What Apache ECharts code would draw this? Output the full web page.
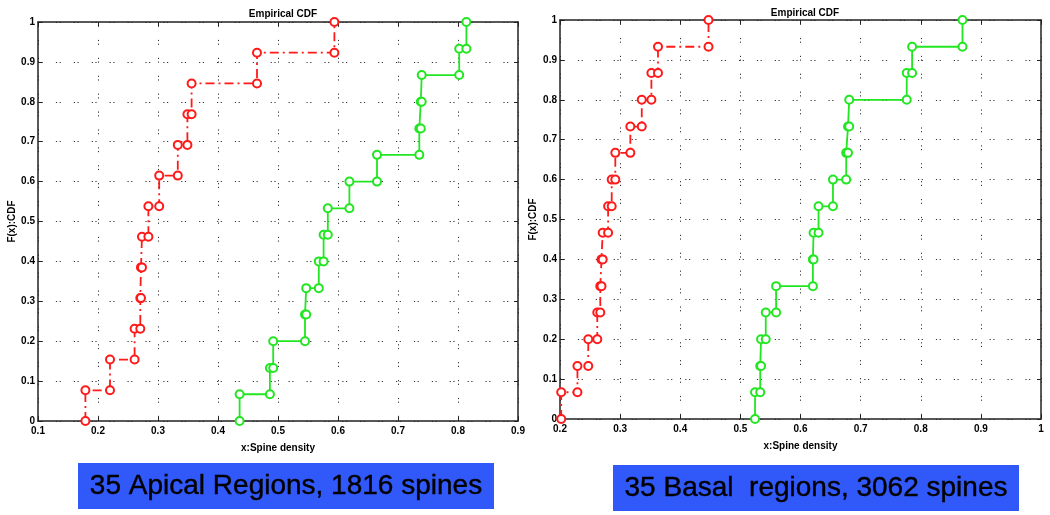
<!DOCTYPE html>
<html><head><meta charset="utf-8">
<script src="https://cdn.jsdelivr.net/npm/echarts@6/dist/echarts.min.js"></script>
<style>html,body{margin:0;padding:0;background:#fff}#c{width:1050px;height:515px}</style>
</head><body><div id="c"></div>
<script>
// Apical (left panel)
const apicalRedX   = [0.179, 0.220, 0.261, 0.2705, 0.2716, 0.2733, 0.284, 0.302, 0.333, 0.349, 0.356, 0.465, 0.594];
const apicalRedF   = [0.077, 0.154, 0.231, 0.308, 0.385, 0.462, 0.538, 0.615, 0.692, 0.769, 0.846, 0.923, 1];
const apicalGreenX = [0.436, 0.4865, 0.492, 0.545, 0.547, 0.568, 0.576, 0.583, 0.619, 0.665, 0.7355, 0.738, 0.7395, 0.802, 0.814];
const apicalGreenF = [0.067, 0.133, 0.2, 0.267, 0.333, 0.4, 0.467, 0.533, 0.6, 0.667, 0.733, 0.8, 0.867, 0.933, 1];
// Basal (right panel)
const basalRedX    = [0.202, 0.229, 0.247, 0.262, 0.267, 0.269, 0.271, 0.280, 0.286, 0.292, 0.317, 0.336, 0.352, 0.363, 0.447];
const basalRedF    = [0.067, 0.133, 0.2, 0.267, 0.333, 0.4, 0.467, 0.533, 0.6, 0.667, 0.733, 0.8, 0.867, 0.933, 1];
const basalGreenX  = [0.5244, 0.533, 0.5344, 0.5422, 0.5594, 0.6206, 0.6217, 0.630, 0.654, 0.676, 0.679, 0.681, 0.7767, 0.7856, 0.8694];
const basalGreenF  = [0.067, 0.133, 0.2, 0.267, 0.333, 0.4, 0.467, 0.533, 0.6, 0.667, 0.733, 0.8, 0.867, 0.933, 1];

const titleText = 'Empirical CDF';
const xName = 'x:Spine density';
const yName = 'F(x):CDF';
const leftCaption = '35 Apical Regions, 1816 spines';
const rightCaption = '35 Basal  regions, 3062 spines';

function stairs(xs, fs) {
  const pts = [[xs[0], 0]];
  for (let i = 0; i < xs.length; i++) {
    pts.push([xs[i], fs[i]]);
    if (i + 1 < xs.length) pts.push([xs[i + 1], fs[i]]);
  }
  return pts;
}

const FONT = '"Liberation Sans", Arial, sans-serif';
const RED = '#ff1a1a', GREEN = '#22e622';
const gridLine = {show: true, lineStyle: {color: '#333', width: 1, type: [1.2, 2.5, 1.2, 13]}};

function xAxes(gi, min, max) {
  return [
    {gridIndex: gi, type: 'value', min: min, max: max, interval: 0.1, position: 'bottom',
     name: xName, nameLocation: 'middle', nameGap: 22,
     nameTextStyle: {fontFamily: FONT, fontSize: 10, fontWeight: 'bold', color: '#000'},
     axisLine: {show: true, onZero: false, lineStyle: {color: '#222', width: 1.5}},
     axisTick: {show: true, inside: true, length: 4, lineStyle: {color: '#222'}},
     axisLabel: {fontFamily: FONT, fontSize: 10, fontWeight: 'bold', color: '#000', margin: 5, showMaxLabel: true, showMinLabel: true},
     splitLine: gridLine},
    {gridIndex: gi, type: 'value', min: min, max: max, interval: 0.1, position: 'top',
     axisLine: {show: true, onZero: false, lineStyle: {color: '#222', width: 1.5}},
     axisTick: {show: true, inside: true, length: 4, lineStyle: {color: '#222'}},
     axisLabel: {show: false}, splitLine: {show: false}}
  ];
}
function yAxes(gi, gap) {
  return [
    {gridIndex: gi, type: 'value', min: 0, max: 1, interval: 0.1, position: 'left',
     name: yName, nameLocation: 'middle', nameGap: gap, nameRotate: 90,
     nameTextStyle: {fontFamily: FONT, fontSize: 10, fontWeight: 'bold', color: '#000'},
     axisLine: {show: true, onZero: false, lineStyle: {color: '#222', width: 1.5}},
     axisTick: {show: true, inside: true, length: 4, lineStyle: {color: '#222'}},
     axisLabel: {fontFamily: FONT, fontSize: 10, fontWeight: 'bold', color: '#000', margin: 3},
     splitLine: gridLine},
    {gridIndex: gi, type: 'value', min: 0, max: 1, interval: 0.1, position: 'right',
     axisLine: {show: true, onZero: false, lineStyle: {color: '#222', width: 1.5}},
     axisTick: {show: true, inside: true, length: 4, lineStyle: {color: '#222'}},
     axisLabel: {show: false}, splitLine: {show: false}}
  ];
}

function series(xi, yi, xs, fs, color, dash) {
  return {
    type: 'line', xAxisIndex: xi, yAxisIndex: yi, data: stairs(xs, fs),
    symbol: 'emptyCircle', symbolSize: 8, showAllSymbol: true, animation: false,
    lineStyle: {color: color, width: 1.8, type: dash},
    itemStyle: {color: color, borderColor: color, borderWidth: 1.5}
  };
}

const chart = echarts.init(document.getElementById('c'), null, {renderer: 'canvas'});
chart.setOption({
  animation: false,
  backgroundColor: '#fff',
  title: [
    {text: titleText, left: 278, top: 4, textAlign: 'center',
     textStyle: {fontFamily: FONT, fontSize: 10, fontWeight: 'bold', color: '#000'}},
    {text: titleText, left: 800, top: 3, textAlign: 'center',
     textStyle: {fontFamily: FONT, fontSize: 10, fontWeight: 'bold', color: '#000'}}
  ],
  grid: [
    {left: 38, top: 22, width: 480, height: 399},
    {left: 560, top: 20, width: 481, height: 399}
  ],
  xAxis: [...xAxes(0, 0.1, 0.9), ...xAxes(1, 0.2, 1)],
  yAxis: [...yAxes(0, 18), ...yAxes(1, 22)],
  series: [
    series(0, 0, apicalRedX, apicalRedF, RED, [9, 4, 2, 4]),
    series(0, 0, apicalGreenX, apicalGreenF, GREEN, 'solid'),
    series(2, 2, basalRedX, basalRedF, RED, [9, 4, 2, 4]),
    series(2, 2, basalGreenX, basalGreenF, GREEN, 'solid')
  ],
  graphic: [
    {type: 'rect', shape: {x: 78, y: 463, width: 416, height: 46}, style: {fill: '#3159fa'}},
    {type: 'text', x: 286, y: 486, style: {text: leftCaption, fill: '#000', stroke: '#000', lineWidth: 0.4, font: '28px "Liberation Sans", Arial, sans-serif', textAlign: 'center', textVerticalAlign: 'middle'}},
    {type: 'rect', shape: {x: 613, y: 465, width: 406, height: 46}, style: {fill: '#3159fa'}},
    {type: 'text', x: 816, y: 488, style: {text: rightCaption, fill: '#000', stroke: '#000', lineWidth: 0.4, font: '28px "Liberation Sans", Arial, sans-serif', textAlign: 'center', textVerticalAlign: 'middle'}}
  ]
});
</script></body></html>
